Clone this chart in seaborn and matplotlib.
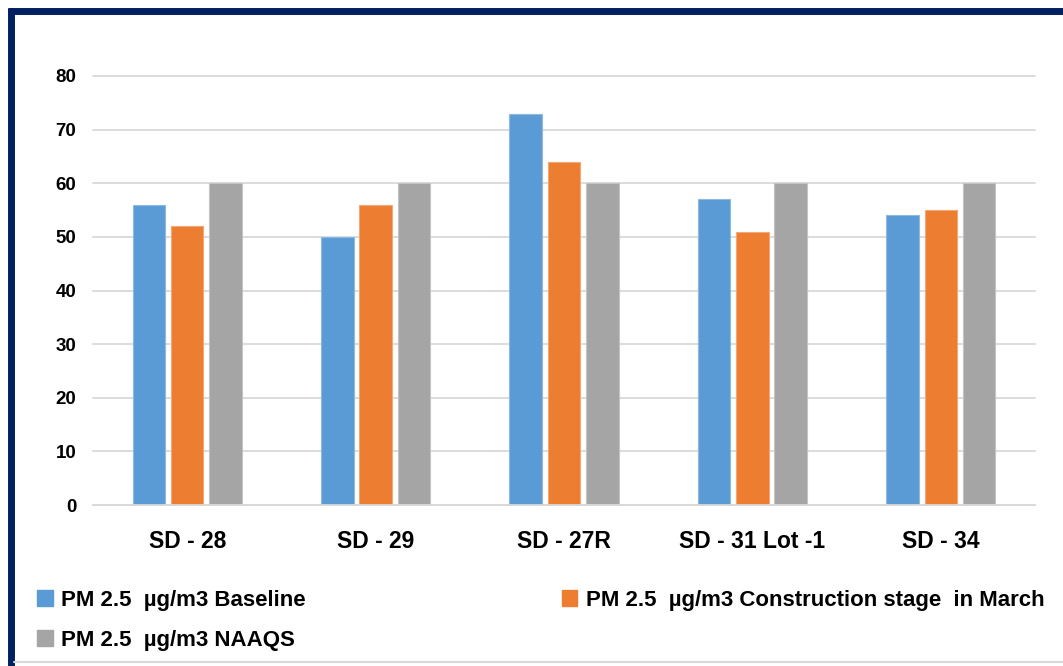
import numpy as np
import pandas as pd
import matplotlib.pyplot as plt
import seaborn as sns
from matplotlib.lines import Line2D

# ========== Data ==========
sites = ["SD - 28", "SD - 29", "SD - 27R", "SD - 31 Lot -1", "SD - 34"]
baseline = [56, 50, 73, 57, 54]
construction = [52, 56, 64, 51, 55]
naaqs = [60, 60, 60, 60, 60]
series_names = [
    "PM 2.5  \u00b5g/m3 Baseline",
    "PM 2.5  \u00b5g/m3 Construction stage  in March",
    "PM 2.5  \u00b5g/m3 NAAQS",
]
colors = ["#5B9BD5", "#ED7D31", "#A5A5A5"]
edge_colors = ["#8DB9E3", "#F4A878", "#C4C4C4"]

df = pd.DataFrame({"Site": sites * 3,
                   "Series": np.repeat(series_names, len(sites)),
                   "Value": baseline + construction + naaqs})

# ========== Plot ==========
sns.set_style("white")
plt.rcParams['font.family'] = ['Liberation Sans', 'DejaVu Sans']
plt.rcParams['font.weight'] = 'bold'
plt.rcParams['text.color'] = 'black'
plt.rcParams['xtick.color'] = 'black'
plt.rcParams['ytick.color'] = 'black'

fig = plt.figure(figsize=(10.63, 6.66), dpi=100)
ax = fig.add_axes([93 / 1063, 1 - 505 / 666, 942 / 1063, 429 / 666])

sns.barplot(data=df, x="Site", y="Value", hue="Series", palette=colors,
            saturation=1, width=0.61, gap=0.15, ax=ax, legend=False)

for patch_group, ec in zip(ax.containers, edge_colors):
    for p in patch_group:
        p.set_edgecolor(ec)
        p.set_linewidth(0.8)

ax.set_ylim(0, 80)
ax.set_xlim(-0.5, len(sites) - 0.5)
ax.set_yticks(range(0, 81, 10))
ax.yaxis.grid(True, color="#D9D9D9", linewidth=1.3)
ax.set_axisbelow(True)
for s in ["top", "right", "left"]:
    ax.spines[s].set_visible(False)
ax.spines["bottom"].set_color("#D9D9D9")
ax.spines["bottom"].set_linewidth(1.3)
ax.tick_params(axis="y", length=0, pad=12, labelsize=13.5)
ax.tick_params(axis="x", length=0, pad=18, labelsize=16.5)
for t in ax.get_yticklabels() + ax.get_xticklabels():
    t.set_fontweight("bold")
ax.set_xlabel("")
ax.set_ylabel("")
for gl in ax.get_ygridlines():
    gl.set_clip_on(False)

# legend (column-major fill, so order gives row 1: baseline, construction; row 2: NAAQS)
handles = [plt.Rectangle((0, 0), 1, 1, color=c) for c in colors]
order = [0, 2, 1]
leg = fig.legend([handles[i] for i in order], [series_names[i] for i in order],
                 loc="upper left", bbox_to_anchor=(17 / 1063, 1 - 570 / 666), ncol=2,
                 frameon=False, prop={"weight": "bold", "size": 16},
                 handlelength=0.7, handleheight=0.7, handletextpad=0.4,
                 columnspacing=11.5, labelspacing=0.85)

# frame lines like the source image
navy = "#002060"
fig.add_artist(Line2D([11 / 1063, 11 / 1063], [0, 1 - 8 / 666], color=navy, lw=5,
                      solid_capstyle="butt", transform=fig.transFigure))
fig.add_artist(Line2D([8 / 1063, 1], [1 - 11 / 666, 1 - 11 / 666], color=navy, lw=5,
                      solid_capstyle="butt", transform=fig.transFigure))
fig.add_artist(Line2D([14 / 1063, 1], [1 - 662 / 666, 1 - 662 / 666], color="#D9D9D9", lw=1.5,
                      transform=fig.transFigure))

fig.savefig("out.png", dpi=100)
